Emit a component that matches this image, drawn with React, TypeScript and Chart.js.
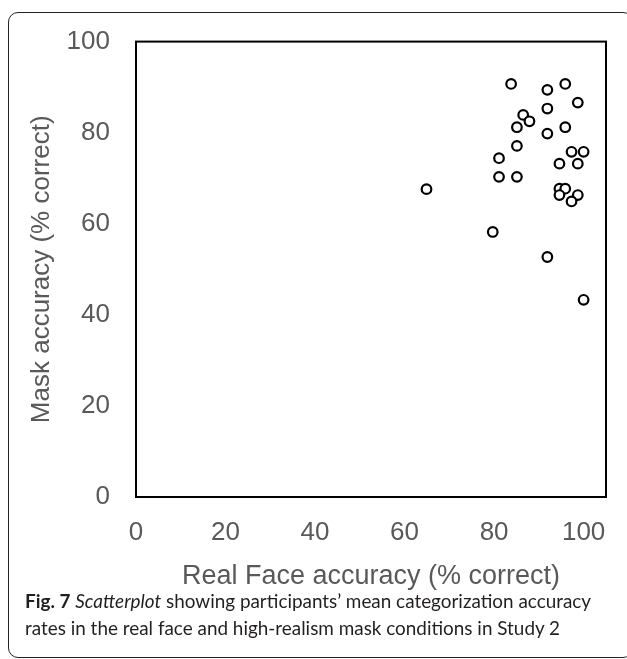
import React, { useEffect, useRef } from "react";
import { Chart, registerables } from "chart.js";

Chart.register(...registerables);

// Real face accuracy (% correct) for each participant
const realFaceAccuracy = [
  83.8, 91.9, 95.9, 98.7, 91.9, 86.5, 87.9, 85.1, 95.9, 91.9, 85.1, 97.3, 100.0, 81.1,
  94.6, 98.7, 81.1, 85.1, 64.9, 94.6, 95.9, 94.6, 98.7, 97.3, 79.7, 91.9, 100.0,
];
// Mask accuracy (% correct) for each participant
const maskAccuracy = [
  90.7, 89.4, 90.7, 86.6, 85.3, 83.9, 82.5, 81.2, 81.2, 79.8, 77.1, 75.8, 75.8, 74.4,
  73.2, 73.2, 70.3, 70.3, 67.6, 67.7, 67.7, 66.3, 66.3, 64.9, 58.2, 52.7, 43.3,
];

const xTickValues = [0, 20, 40, 60, 80, 100];
const yTickValues = [0, 20, 40, 60, 80, 100];
const xTitle = "Real Face accuracy (% correct)";
const yTitle = "Mask accuracy (% correct)";

const FONT = "'Liberation Sans', Arial, Helvetica, sans-serif";
const GREY = "#595959";

const framePlugin = {
  id: "plotFrame",
  afterDraw(chart: any) {
    const { ctx, chartArea } = chart;
    ctx.save();
    ctx.strokeStyle = "#000";
    ctx.lineWidth = 2;
    ctx.strokeRect(
      chartArea.left,
      chartArea.top,
      chartArea.right - chartArea.left,
      chartArea.bottom - chartArea.top
    );
    ctx.restore();
  },
};

export default function App() {
  const canvasRef = useRef<HTMLCanvasElement | null>(null);

  useEffect(() => {
    if (!canvasRef.current) return;
    const points = realFaceAccuracy.map((x, i) => ({ x, y: maskAccuracy[i] }));
    const chart = new Chart(canvasRef.current, {
      type: "scatter",
      data: {
        datasets: [
          {
            data: points,
            pointRadius: 4.8,
            pointHoverRadius: 4.8,
            pointBorderWidth: 2.2,
            pointBackgroundColor: "#ffffff",
            pointBorderColor: "#000000",
            showLine: false,
          },
        ],
      },
      options: {
        animation: false,
        responsive: false,
        maintainAspectRatio: false,
        layout: { padding: { top: 39, right: 21, left: 0, bottom: 0 } },
        plugins: {
          legend: { display: false },
          tooltip: { enabled: false },
        },
        scales: {
          x: {
            type: "linear",
            position: "bottom",
            min: 0,
            max: 105,
            afterBuildTicks: (s: any) => {
              s.ticks = xTickValues.map((v) => ({ value: v }));
            },
            afterFit: (s: any) => {
              s.height = 162;
            },
            grid: { display: false, drawTicks: false },
            border: { display: false },
            ticks: {
              padding: 20,
              autoSkip: false,
              maxRotation: 0,
              color: GREY,
              font: { family: FONT, size: 26 },
            },
            title: {
              display: true,
              text: xTitle,
              color: GREY,
              font: { family: FONT, size: 27 },
              padding: { top: 0, bottom: 66 },
            },
          },
          y: {
            type: "linear",
            min: 0,
            max: 100,
            afterBuildTicks: (s: any) => {
              s.ticks = yTickValues.map((v) => ({ value: v }));
            },
            afterFit: (s: any) => {
              s.width = 136;
            },
            grid: { display: false, drawTicks: false },
            border: { display: false },
            ticks: {
              padding: 26,
              autoSkip: false,
              color: GREY,
              font: { family: FONT, size: 26 },
            },
            title: {
              display: true,
              text: yTitle,
              color: GREY,
              font: { family: FONT, size: 26 },
              padding: { top: 26, bottom: 0 },
            },
          },
        },
      },
      plugins: [framePlugin],
    });
    return () => chart.destroy();
  }, []);

  return (
    <div
      style={{
        position: "absolute",
        left: 0,
        top: 0,
        width: 627,
        height: 659,
        overflow: "hidden",
        background: "#fff",
      }}
    >
      <div
        style={{
          position: "absolute",
          left: 8,
          top: 12,
          width: 625,
          height: 646,
          boxSizing: "border-box",
          border: "1.5px solid #222",
          borderRadius: 10,
        }}
      />
      <canvas
        ref={canvasRef}
        width={627}
        height={659}
        style={{ position: "absolute", left: 0, top: 0, width: 627, height: 659 }}
      />
      <div
        style={{
          position: "absolute",
          left: 25,
          top: 587,
          fontFamily: "Lato, 'Noto Sans', sans-serif",
          fontSize: 18.9,
          lineHeight: "27px",
          color: "#231f20",
          whiteSpace: "nowrap",
        }}
      >
        <div>
          <b>Fig. 7</b> <i>Scatterplot</i> showing participants’ mean categorization accuracy
        </div>
        <div>rates in the real face and high-realism mask conditions in Study 2</div>
      </div>
    </div>
  );
}
